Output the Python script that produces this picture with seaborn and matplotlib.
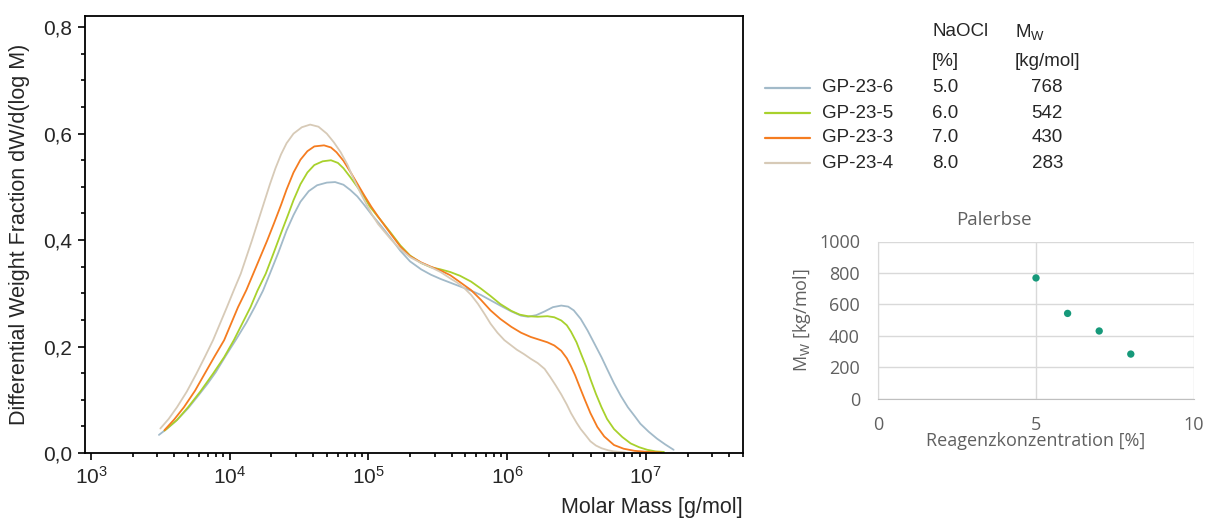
import numpy as np
import pandas as pd
import matplotlib
matplotlib.use("Agg")
import matplotlib.pyplot as plt
import matplotlib.ticker as mticker
import seaborn as sns

# sample table (legend)
samples = ["GP-23-6", "GP-23-5", "GP-23-3", "GP-23-4"]
naocl = [5.0, 6.0, 7.0, 8.0]
mw = [768, 542, 430, 283]
colors = ["#a2bac9", "#a8d12c", "#f57c20", "#d7cab7"]

# curves: log10(M [g/mol]) and dW/d(log M)
logm_6 = [3.49, 3.55, 3.62, 3.70, 3.78, 3.84, 3.90, 3.97, 4.05, 4.12, 4.18, 4.24, 4.29, 4.35,
          4.41, 4.46, 4.51, 4.57, 4.63, 4.70, 4.76, 4.82, 4.87, 4.92, 4.97, 5.02, 5.09, 5.16,
          5.23, 5.30, 5.38, 5.45, 5.52, 5.59, 5.66, 5.74, 5.81, 5.88, 5.95, 6.03, 6.10, 6.15,
          6.21, 6.27, 6.33, 6.39, 6.44, 6.48, 6.53, 6.58, 6.63, 6.68, 6.72, 6.77, 6.82, 6.87,
          6.92, 6.96, 7.02, 7.08, 7.14, 7.20]
dw_6 = [0.034, 0.046, 0.062, 0.084, 0.110, 0.130, 0.152, 0.182, 0.215, 0.245, 0.274, 0.305,
        0.337, 0.376, 0.418, 0.447, 0.472, 0.492, 0.503, 0.508, 0.509, 0.504, 0.494, 0.482,
        0.466, 0.449, 0.427, 0.404, 0.380, 0.360, 0.345, 0.335, 0.327, 0.320, 0.313, 0.305,
        0.297, 0.287, 0.277, 0.266, 0.258, 0.256, 0.259, 0.266, 0.274, 0.277, 0.275, 0.268,
        0.252, 0.230, 0.205, 0.180, 0.158, 0.131, 0.107, 0.086, 0.069, 0.055, 0.040, 0.027,
        0.016, 0.006]

logm_5 = [3.53, 3.62, 3.70, 3.79, 3.88, 3.96, 4.03, 4.09, 4.15, 4.20, 4.26, 4.32, 4.37, 4.42,
          4.46, 4.51, 4.56, 4.61, 4.67, 4.73, 4.78, 4.82, 4.87, 4.92, 4.97, 5.01, 5.09, 5.16,
          5.23, 5.30, 5.38, 5.45, 5.52, 5.59, 5.66, 5.74, 5.81, 5.88, 5.95, 6.03, 6.09, 6.15,
          6.22, 6.29, 6.34, 6.39, 6.43, 6.46, 6.50, 6.53, 6.57, 6.60, 6.64, 6.68, 6.72, 6.77,
          6.83, 6.89, 6.95, 7.01, 7.07, 7.13]
dw_5 = [0.042, 0.062, 0.086, 0.116, 0.149, 0.180, 0.212, 0.243, 0.274, 0.305, 0.337, 0.378,
        0.413, 0.447, 0.475, 0.505, 0.527, 0.541, 0.548, 0.550, 0.545, 0.535, 0.518, 0.500,
        0.481, 0.463, 0.437, 0.414, 0.390, 0.371, 0.357, 0.349, 0.345, 0.340, 0.333, 0.322,
        0.309, 0.295, 0.280, 0.267, 0.260, 0.257, 0.256, 0.257, 0.255, 0.249, 0.240, 0.228,
        0.208, 0.188, 0.162, 0.139, 0.111, 0.086, 0.064, 0.045, 0.030, 0.018, 0.011, 0.006,
        0.003, 0.002]

logm_3 = [3.53, 3.60, 3.67, 3.75, 3.82, 3.89, 3.96, 4.01, 4.06, 4.12, 4.17, 4.22, 4.27, 4.32,
          4.37, 4.41, 4.46, 4.51, 4.56, 4.61, 4.68, 4.73, 4.77, 4.82, 4.87, 4.92, 4.97, 5.02,
          5.07, 5.16, 5.23, 5.30, 5.38, 5.45, 5.52, 5.59, 5.66, 5.74, 5.81, 5.88, 5.95, 6.03,
          6.10, 6.17, 6.23, 6.29, 6.34, 6.39, 6.43, 6.46, 6.49, 6.52, 6.56, 6.60, 6.65, 6.70,
          6.77, 6.84, 6.92, 7.02, 7.11]
dw_3 = [0.043, 0.063, 0.086, 0.117, 0.149, 0.181, 0.212, 0.243, 0.274, 0.306, 0.337, 0.368,
        0.399, 0.432, 0.466, 0.495, 0.527, 0.551, 0.567, 0.576, 0.578, 0.574, 0.565, 0.549,
        0.528, 0.506, 0.484, 0.463, 0.444, 0.412, 0.388, 0.370, 0.358, 0.350, 0.343, 0.334,
        0.321, 0.306, 0.288, 0.268, 0.252, 0.237, 0.226, 0.218, 0.213, 0.208, 0.202, 0.192,
        0.178, 0.163, 0.146, 0.126, 0.100, 0.075, 0.049, 0.031, 0.015, 0.008, 0.004, 0.002,
        0.001]

logm_4 = [3.50, 3.56, 3.62, 3.69, 3.76, 3.82, 3.88, 3.93, 3.98, 4.03, 4.08, 4.12, 4.16, 4.22,
          4.29, 4.33, 4.37, 4.41, 4.46, 4.52, 4.58, 4.64, 4.70, 4.75, 4.80, 4.85, 4.89, 4.94,
          4.99, 5.03, 5.07, 5.16, 5.23, 5.30, 5.38, 5.45, 5.52, 5.59, 5.64, 5.69, 5.74, 5.79,
          5.84, 5.88, 5.93, 5.98, 6.03, 6.07, 6.12, 6.17, 6.22, 6.27, 6.31, 6.35, 6.39, 6.43,
          6.46, 6.50, 6.53, 6.57, 6.60, 6.64, 6.68, 6.73, 6.77, 6.85]
dw_4 = [0.046, 0.064, 0.086, 0.115, 0.149, 0.180, 0.212, 0.243, 0.274, 0.306, 0.337, 0.368,
        0.399, 0.448, 0.505, 0.535, 0.561, 0.582, 0.600, 0.612, 0.617, 0.613, 0.600, 0.584,
        0.565, 0.541, 0.517, 0.490, 0.465, 0.446, 0.430, 0.402, 0.383, 0.368, 0.357, 0.349,
        0.340, 0.328, 0.320, 0.310, 0.297, 0.280, 0.260, 0.243, 0.226, 0.212, 0.202, 0.194,
        0.186, 0.177, 0.169, 0.158, 0.143, 0.127, 0.110, 0.091, 0.075, 0.057, 0.045, 0.032,
        0.022, 0.014, 0.009, 0.005, 0.003, 0.001]

curves = {"GP-23-6": (logm_6, dw_6), "GP-23-5": (logm_5, dw_5),
          "GP-23-3": (logm_3, dw_3), "GP-23-4": (logm_4, dw_4)}

rows = []
for name, (lm, dw) in curves.items():
    for a, b in zip(lm, dw):
        rows.append({"sample": name, "M": 10 ** a, "dw": b})
df = pd.DataFrame(rows)

sns.set_style("white")
plt.rcParams["font.family"] = ["Liberation Sans", "DejaVu Sans"]
plt.rcParams["mathtext.fontset"] = "custom"
plt.rcParams["mathtext.rm"] = "Liberation Sans"
plt.rcParams["mathtext.it"] = "Liberation Sans:italic"

fig = plt.figure(figsize=(12.09, 5.2), dpi=100)

# main distribution plot
ax = fig.add_axes([85 / 1209, 67 / 520, 658 / 1209, 437 / 520])
sns.lineplot(data=df, x="M", y="dw", hue="sample", palette=dict(zip(samples, colors)),
             estimator=None, sort=True, legend=False, linewidth=1.3,
             solid_joinstyle="round", ax=ax)
ax.set_xscale("log")
ax.set_xlim(10 ** 2.957, 10 ** 7.70)
ax.set_ylim(0, 0.821)
ax.yaxis.set_major_locator(mticker.MultipleLocator(0.2))
ax.yaxis.set_minor_locator(mticker.MultipleLocator(0.05))
ax.yaxis.set_major_formatter(mticker.FuncFormatter(lambda v, p: f"{v:.1f}".replace(".", ",")))
ax.xaxis.set_major_locator(mticker.LogLocator(base=10, numticks=10))
ax.xaxis.set_minor_locator(mticker.LogLocator(base=10, subs=np.arange(2, 10), numticks=20))
ax.xaxis.set_minor_formatter(mticker.NullFormatter())
ax.tick_params(which="both", direction="out", color="black", width=1.2)
ax.tick_params(which="major", length=5, labelsize=15)
ax.tick_params(which="minor", length=3)
ax.tick_params(axis="x", which="both", bottom=True, pad=4)
ax.tick_params(axis="y", which="both", left=True, pad=4.5)
for s in ax.spines.values():
    s.set_color("black")
    s.set_linewidth(1.3)
ax.set_xlabel("")
ax.set_ylabel("Differential Weight Fraction dW/d(log M)", fontsize=15.5, labelpad=9)
fig.text(743 / 1209, 1 - 508 / 520, "Molar Mass [g/mol]", ha="right", va="center", fontsize=15.5)

# legend table
ov = fig.add_axes([0, 0, 1, 1])
ov.set_xlim(0, 1209)
ov.set_ylim(520, 0)
ov.axis("off")
fs = 13.5
ov.text(932, 32, "NaOCl", ha="left", va="center", fontsize=fs)
ov.text(1015, 32, r"M$_{\mathrm{W}}$", ha="left", va="center", fontsize=fs)
ov.text(932, 62, "[%]", ha="left", va="center", fontsize=fs)
ov.text(1015, 62, "[kg/mol]", ha="left", va="center", fontsize=fs)
row_y = [88, 113, 138, 163]
for y, name, c, conc, m in zip(row_y, samples, colors, naocl, mw):
    ov.plot([765, 810], [y, y], color=c, linewidth=1.6)
    ov.text(822, y, name, ha="left", va="center", fontsize=fs)
    ov.text(932, y, f"{conc:.1f}", ha="left", va="center", fontsize=fs)
    ov.text(1063, y, f"{m}", ha="right", va="center", fontsize=fs)

# inset: Mw vs reagent concentration
gray = "#606060"
ax2 = fig.add_axes([878 / 1209, 121.5 / 520, 316 / 1209, 157 / 520])
sns.scatterplot(x=naocl, y=mw, color="#16997a", s=28, edgecolor="none", ax=ax2)
ax2.set_xlim(0, 10)
ax2.set_ylim(0, 1000)
ax2.xaxis.set_major_locator(mticker.MultipleLocator(5))
ax2.yaxis.set_major_locator(mticker.MultipleLocator(200))
ax2.grid(True, color="#d9d9d9", linewidth=1)
ax2.set_axisbelow(True)
for k in ["top", "right"]:
    ax2.spines[k].set_visible(False)
ax2.spines["left"].set_color("#d9d9d9")
ax2.spines["bottom"].set_color("#bfbfbf")
ax2.tick_params(length=0, labelsize=13, labelcolor=gray)
ax2.tick_params(axis="x", pad=12.5)
ax2.tick_params(axis="y", pad=13)
for t in ax2.get_xticklabels() + ax2.get_yticklabels():
    t.set_family(["Open Sans", "DejaVu Sans"])
ax2.set_title("Palerbse", fontsize=13.5, color=gray, family=["Open Sans", "DejaVu Sans"],
              pad=12, x=0.367)
ax2.set_xlabel("Reagenzkonzentration [%]", fontsize=13, color=gray,
               family=["Open Sans", "DejaVu Sans"], labelpad=-1)
ax2.set_ylabel(r"M$_{\mathrm{W}}$ [kg/mol]", fontsize=13, color=gray,
               family=["Open Sans", "DejaVu Sans"], labelpad=4)

fig.savefig("out.png", dpi=100)
